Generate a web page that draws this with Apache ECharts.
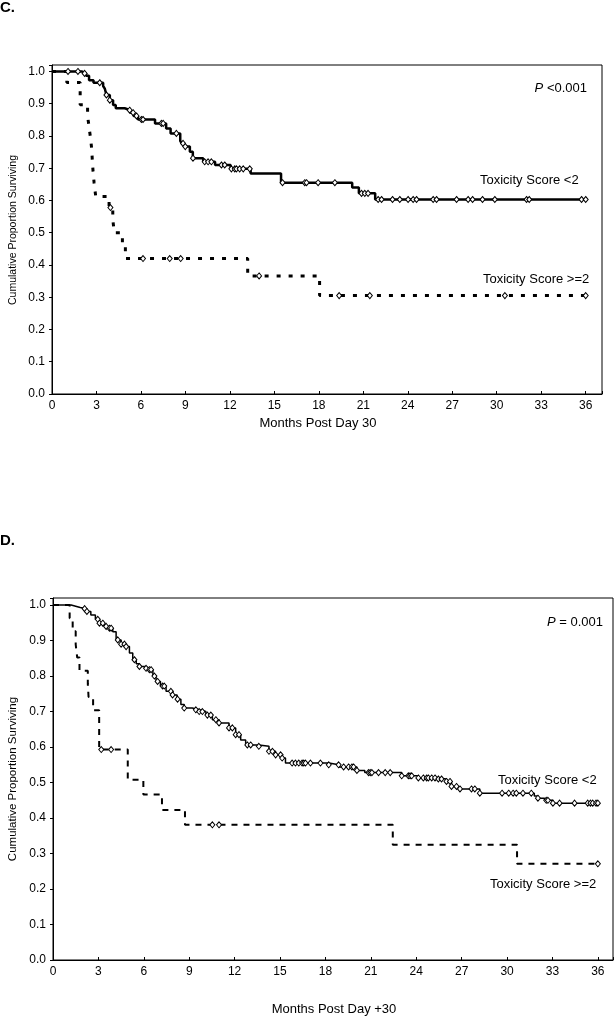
<!DOCTYPE html>
<html>
<head>
<meta charset="utf-8">
<script src="https://cdn.jsdelivr.net/npm/echarts@6/dist/echarts.min.js"></script>
<style>
html,body{margin:0;padding:0;background:#fff;}
#chart{width:616px;height:1020px;}
</style>
</head>
<body>
<div id="chart"></div>
<script>
// ---------- Panel C data ----------
const cLowTimes = [0, 2.0, 2.3, 2.5, 2.8, 3.45, 3.56, 3.67, 3.9, 4.12, 4.3, 4.9, 5.3, 5.5, 5.8, 6.95, 7.7, 8.0, 8.65, 8.75, 8.95, 9.3, 9.5, 10.2, 11.0, 12.05, 13.4, 15.45, 20.25, 20.7, 21.8, 36];
const cLowSurv  = [1.0, 0.994, 0.987, 0.973, 0.965, 0.955, 0.947, 0.927, 0.911, 0.896, 0.886, 0.88, 0.872, 0.862, 0.851, 0.839, 0.823, 0.808, 0.785, 0.777, 0.767, 0.751, 0.731, 0.72, 0.71, 0.698, 0.684, 0.655, 0.64, 0.622, 0.603, 0.603];
const cLowCensor = [1.08, 1.75, 2.2, 3.22, 3.67, 3.9, 5.24, 5.47, 5.7, 6.03, 6.14, 7.38, 7.5, 8.39, 8.84, 8.99, 9.51, 10.3, 10.53, 10.75, 11.43, 11.65, 12.1, 12.33, 12.44, 12.66, 12.9, 13.34, 15.55, 17.05, 17.17, 17.95, 19.08, 20.88, 21.1, 21.32, 22.0, 22.23, 22.97, 23.46, 24.02, 24.36, 24.59, 25.71, 25.94, 27.29, 28.07, 28.37, 29.04, 29.87, 32.01, 32.19, 35.72, 36.0];

const cHighTimes = [0, 1.0, 1.9, 2.4, 2.5, 2.6, 2.68, 2.72, 2.77, 2.84, 2.95, 3.85, 4.1, 4.2, 4.75, 4.95, 13.2, 18.05, 36];
const cHighSurv  = [1.0, 0.966, 0.897, 0.862, 0.828, 0.793, 0.759, 0.724, 0.69, 0.655, 0.612, 0.578, 0.542, 0.5, 0.46, 0.42, 0.366, 0.305, 0.305];
const cHighCensor = [3.94, 6.14, 7.94, 8.68, 13.97, 19.37, 21.44, 30.55, 36.0];

// ---------- Panel D data ----------
const dLowTimes = [0, 1.2, 1.5, 1.8, 2.2, 2.5, 2.8, 3.07, 3.4, 3.73, 3.95, 4.17, 4.5, 4.83, 5.05, 5.27, 5.5, 5.7, 6.1, 6.37, 6.6, 6.81, 7.1, 7.47, 7.9, 8.2, 8.45, 8.67, 9.2, 9.66, 10.1, 10.53, 10.97, 11.63, 12.07, 12.4, 12.73, 13.6, 14.27, 14.7, 15.14, 15.36, 18.22, 18.9, 20.08, 20.6, 23.04, 24.14, 25.45, 26.0, 26.33, 26.77, 28.2, 31.8, 32.04, 32.48, 33.03, 36];
const dLowSurv  = [1.0, 0.997, 0.993, 0.99, 0.982, 0.972, 0.96, 0.949, 0.94, 0.935, 0.925, 0.902, 0.89, 0.883, 0.865, 0.846, 0.835, 0.827, 0.822, 0.818, 0.8, 0.785, 0.772, 0.757, 0.747, 0.735, 0.72, 0.71, 0.705, 0.7, 0.69, 0.677, 0.668, 0.654, 0.635, 0.62, 0.606, 0.602, 0.588, 0.578, 0.569, 0.555, 0.55, 0.544, 0.534, 0.528, 0.519, 0.513, 0.51, 0.503, 0.489, 0.482, 0.47, 0.462, 0.456, 0.45, 0.442, 0.442];
const dLowCensor = [2.09, 2.24, 2.96, 3.07, 3.29, 3.51, 3.73, 3.84, 4.28, 4.5, 4.72, 4.83, 5.38, 5.71, 6.15, 6.37, 6.48, 6.7, 6.91, 7.24, 7.35, 7.79, 7.9, 8.23, 8.67, 9.44, 9.66, 9.87, 10.2, 10.43, 10.76, 10.97, 11.63, 11.85, 12.07, 12.29, 12.84, 13.06, 13.6, 14.27, 14.5, 14.71, 15.04, 15.14, 15.8, 16.02, 16.24, 16.46, 16.57, 16.68, 17.01, 17.67, 18.22, 18.87, 19.2, 19.53, 19.75, 19.86, 20.08, 20.85, 20.96, 21.07, 21.51, 21.95, 22.28, 23.04, 23.48, 23.59, 23.7, 24.14, 24.47, 24.69, 24.8, 25.02, 25.24, 25.46, 25.67, 26.0, 26.23, 26.33, 26.66, 26.89, 27.65, 27.87, 28.2, 29.67, 30.11, 30.4, 30.61, 31.05, 31.6, 32.04, 32.59, 32.7, 33.03, 33.47, 34.46, 35.33, 35.51, 35.66, 35.88, 36.0];

const dHighTimes = [0, 1.1, 1.3, 1.5, 1.6, 1.75, 2.3, 2.35, 2.65, 3.05, 4.94, 5.97, 7.2, 8.72, 22.45, 30.66, 36];
const dHighSurv  = [1.0, 0.963, 0.926, 0.889, 0.852, 0.815, 0.778, 0.741, 0.704, 0.593, 0.508, 0.466, 0.423, 0.381, 0.325, 0.271, 0.271];
const dHighCensor = [3.19, 3.84, 10.53, 10.97, 36.0];

const xTicks = [0, 3, 6, 9, 12, 15, 18, 21, 24, 27, 30, 33, 36];
const yTicks = ['0.0','0.1','0.2','0.3','0.4','0.5','0.6','0.7','0.8','0.9','1.0'];

// ---------- helpers ----------
function pairs(ts, vs){ return ts.map((t,i)=>[t, vs[i]]); }
function survAt(ts, vs, t){ let s = vs[0]; for (let i=0;i<ts.length;i++){ if (ts[i] <= t + 1e-9) s = vs[i]; } return s; }
function censorPts(ts, vs, cs){ return cs.map(t=>[t, survAt(ts, vs, t)]); }

const FONT = 'Liberation Sans, Arial, Helvetica, sans-serif';

function xAxisCfg(gridIndex, max){
  return {
    type:'value', gridIndex, min:0, max, interval:3,
    axisLine:{show:true, lineStyle:{color:'#000', width:1}},
    axisTick:{show:true, inside:true, length:3, lineStyle:{color:'#000'}},
    axisLabel:{color:'#000', fontFamily:FONT, fontSize:12, margin:6,
      formatter:(v)=> xTicks.indexOf(Math.round(v*1000)/1000) >= 0 ? String(Math.round(v)) : ''},
    splitLine:{show:false}
  };
}
function yAxisCfg(gridIndex){
  return {
    type:'value', gridIndex, min:0, max:1.02, interval:0.1,
    axisLine:{show:true, lineStyle:{color:'#000', width:1}},
    axisTick:{show:true, inside:false, length:3, lineStyle:{color:'#000'}},
    axisLabel:{color:'#000', fontFamily:FONT, fontSize:12, margin:7,
      formatter:(v)=>{ const s = v.toFixed(1); return (v <= 1.0001 && yTicks.indexOf(s) >= 0) ? s : ''; }},
    splitLine:{show:false}
  };
}

function stepSeries(xi, ts, vs, width, dash){
  return {
    type:'line', xAxisIndex:xi, yAxisIndex:xi, step:'end',
    data:pairs(ts, vs), showSymbol:false, symbol:'none',
    lineStyle:{color:'#000', width, type: dash || 'solid', cap:'butt'},
    silent:true, z:2
  };
}
function censorSeries(xi, ts, vs, cs, size){
  return {
    type:'scatter', xAxisIndex:xi, yAxisIndex:xi,
    data:censorPts(ts, vs, cs), symbol:'diamond', symbolSize:size,
    itemStyle:{color:'#fff', borderColor:'#000', borderWidth:1, opacity:1},
    silent:true, z:3
  };
}

function txt(x, y, text, opts){
  return Object.assign({
    type:'text', x, y, silent:true,
    style:Object.assign({text, fill:'#000', font:'13px ' + FONT, textAlign:'left', textVerticalAlign:'middle'}, (opts && opts.style) || {})
  }, opts && opts.rotation ? {rotation: opts.rotation} : {});
}

const chart = echarts.init(document.getElementById('chart'), null, {renderer:'canvas'});
chart.setOption({
  animation:false,
  backgroundColor:'#fff',
  grid:[
    {left:52, top:65, width:550, height:329, show:true, borderColor:'#000', borderWidth:1, backgroundColor:'transparent', containLabel:false},
    {left:53, top:598, width:562, height:362, show:true, borderColor:'#000', borderWidth:1, backgroundColor:'transparent', containLabel:false}
  ],
  xAxis:[xAxisCfg(0, 37.1), xAxisCfg(1, 37.0)],
  yAxis:[yAxisCfg(0), yAxisCfg(1)],
  series:[
    stepSeries(0, cLowTimes, cLowSurv, 2.5),
    stepSeries(0, cHighTimes, cHighSurv, 3, [4, 8]),
    censorSeries(0, cLowTimes, cLowSurv, cLowCensor, [5, 6]),
    censorSeries(0, cHighTimes, cHighSurv, cHighCensor, [5, 6]),
    stepSeries(1, dLowTimes, dLowSurv, 1.5),
    stepSeries(1, dHighTimes, dHighSurv, 2, [6, 6]),
    censorSeries(1, dLowTimes, dLowSurv, dLowCensor, [5, 6]),
    censorSeries(1, dHighTimes, dHighSurv, dHighCensor, [5, 6])
  ],
  graphic:[
    txt(0, 8, 'C.', {style:{font:'bold 15px ' + FONT}}),
    txt(0, 541, 'D.', {style:{font:'bold 15px ' + FONT}}),
    // panel C texts
    {type:'text', x:587, y:88, silent:true, style:{text:'{i|P} <0.001', textAlign:'right', textVerticalAlign:'middle', fill:'#000', font:'13px ' + FONT, rich:{i:{fontStyle:'italic', fontFamily:FONT, fontSize:13}}}},
    txt(480, 180, 'Toxicity Score <2'),
    txt(483, 279, 'Toxicity Score >=2'),
    txt(318, 423, 'Months Post Day 30', {style:{textAlign:'center'}}),
    txt(13, 230, 'Cumulative Proportion Surviving', {rotation:Math.PI/2, style:{textAlign:'center', font:'10.5px ' + FONT}}),
    // panel D texts
    {type:'text', x:603, y:622, silent:true, style:{text:'{i|P} = 0.001', textAlign:'right', textVerticalAlign:'middle', fill:'#000', font:'13px ' + FONT, rich:{i:{fontStyle:'italic', fontFamily:FONT, fontSize:13}}}},
    txt(498, 780, 'Toxicity Score <2'),
    txt(490, 884, 'Toxicity Score >=2'),
    txt(334, 1009, 'Months Post Day +30', {style:{textAlign:'center'}}),
    txt(13, 779, 'Cumulative Proportion Surviving', {rotation:Math.PI/2, style:{textAlign:'center', font:'11.5px ' + FONT}})
  ]
});
</script>
</body>
</html>
